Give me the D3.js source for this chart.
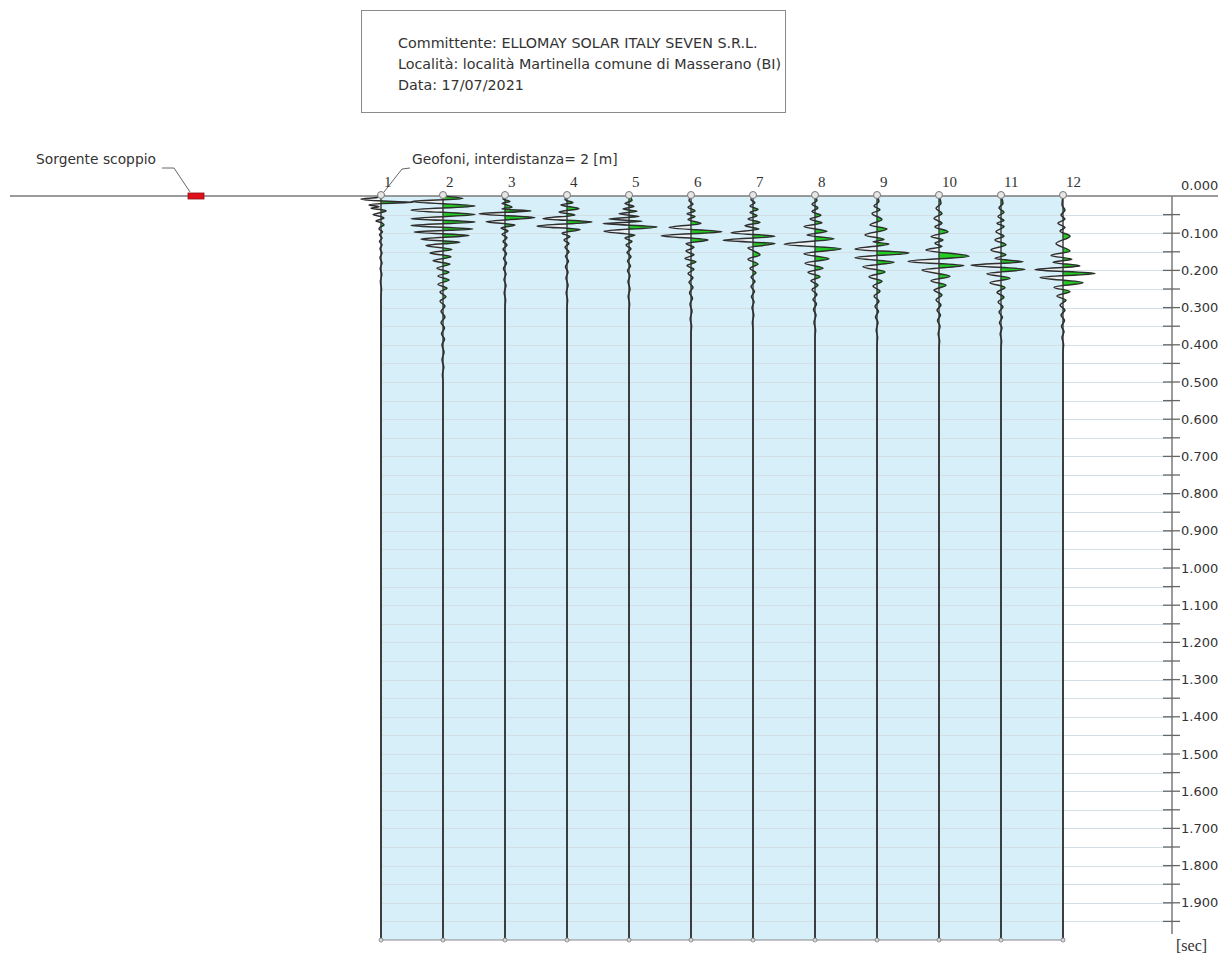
<!DOCTYPE html>
<html>
<head>
<meta charset="utf-8">
<script src="https://cdn.jsdelivr.net/npm/d3@7"></script>
<style>
  html, body { margin: 0; padding: 0; background: #fff; }
  svg { display: block; }
  text { font-family: "DejaVu Sans", Verdana, sans-serif; fill: #333; }
  text.serif { font-family: "Liberation Serif", "Times New Roman", serif; }
</style>
</head>
<body>
<svg id="chart" width="1223" height="957"></svg>
<script>
// ---------------- DATA ----------------
const headerLines = [
  "Committente: ELLOMAY SOLAR ITALY SEVEN S.R.L.",
  "Località: località Martinella comune di Masserano (BI)",
  "Data: 17/07/2021"
];
const sourceLabel = "Sorgente scoppio";
const geophoneLabel = "Geofoni, interdistanza= 2 [m]";
const unitLabel = "[sec]";
const geophones = [1, 2, 3, 4, 5, 6, 7, 8, 9, 10, 11, 12];
const majorTicks = [0.1, 0.2, 0.3, 0.4, 0.5, 0.6, 0.7, 0.8, 0.9, 1.0, 1.1, 1.2, 1.3, 1.4, 1.5, 1.6, 1.7, 1.8, 1.9];
const tickLabels = ["0.100","0.200","0.300","0.400","0.500","0.600","0.700","0.800","0.900","1.000","1.100","1.200","1.300","1.400","1.500","1.600","1.700","1.800","1.900"];
const minorTicks = [0.05, 0.15, 0.25, 0.35, 0.45, 0.55, 0.65, 0.75, 0.85, 0.95, 1.05, 1.15, 1.25, 1.35, 1.45, 1.55, 1.65, 1.75, 1.85, 1.95];
const zeroLabel = "0.000";

// traces: [time (s), amplitude (arb. units)]
const trace1 = [[0,0],[0.004,-4],[0.008,-20],[0.013,-3],[0.017,32],[0.020,2],[0.024,-12],[0.029,-2],[0.033,-10],[0.037,1],[0.040,5],[0.045,-1],[0.050,-8],[0.055,0],[0.059,3],[0.063,-1],[0.067,-5],[0.072,1],[0.078,3],[0.084,-1],[0.089,-2],[0.096,1.5],[0.104,-1.5],[0.113,1],[0.122,-1.5],[0.131,1],[0.142,-1],[0.153,1],[0.166,-1],[0.18,1],[0.195,-0.8],[0.21,0.8],[0.23,-0.6],[0.25,0.5],[0.27,0],[2.0,0]];
const trace2 = [[0,0],[0.007,20],[0.015,-32],[0.027,32],[0.038,-32],[0.050,32],[0.061,-32],[0.070,32],[0.079,-32],[0.089,30],[0.097,-29],[0.106,26],[0.116,-22],[0.124,17],[0.133,-17],[0.144,9],[0.153,-13],[0.163,8],[0.174,-10],[0.183,7],[0.194,-6],[0.205,6],[0.215,-5],[0.226,6],[0.237,-5],[0.248,4],[0.258,-3],[0.271,3],[0.283,-3],[0.296,2],[0.31,-2],[0.325,2],[0.34,-2],[0.355,1.5],[0.37,-1.5],[0.385,1.5],[0.40,-1],[0.42,1],[0.44,-1],[0.46,0.8],[0.48,-0.6],[0.5,0],[2.0,0]];
const trace3 = [[0,0],[0.008,-2],[0.015,5],[0.020,-3],[0.024,2],[0.030,7],[0.035,-3],[0.040,26],[0.048,-26],[0.058,30],[0.069,-19],[0.078,10],[0.086,-4],[0.094,3],[0.103,-3],[0.112,2],[0.122,-2],[0.132,2],[0.143,-2],[0.155,1.5],[0.168,-1.5],[0.18,1.5],[0.195,-1.5],[0.21,1],[0.225,-1],[0.24,1],[0.26,-0.8],[0.28,0.6],[0.3,0],[2.0,0]];
const trace4 = [[0,0],[0.010,-2],[0.018,6],[0.024,-6],[0.034,12],[0.043,-8],[0.051,8],[0.061,-24],[0.070,25],[0.081,-30],[0.090,13],[0.100,-5],[0.109,3],[0.118,-3],[0.128,2],[0.138,-2],[0.15,2],[0.162,-1.5],[0.175,1.5],[0.19,-1.5],[0.205,1],[0.22,-1],[0.24,1],[0.26,-0.8],[0.28,0.6],[0.30,0],[2.0,0]];
const trace5 = [[0,0],[0.012,3],[0.020,-4],[0.028,5],[0.035,-6],[0.041,8],[0.048,-10],[0.055,10],[0.062,-20],[0.068,13],[0.074,-26],[0.083,28],[0.095,-25],[0.105,6],[0.113,-4],[0.122,3],[0.132,-3],[0.142,2],[0.152,-2],[0.163,2],[0.175,-1.5],[0.188,1.5],[0.2,-1.5],[0.215,1],[0.23,-1],[0.25,1],[0.27,-0.8],[0.29,0.6],[0.31,0],[2.0,0]];
const trace6 = [[0,0],[0.012,-2],[0.022,2],[0.030,-3],[0.040,4],[0.048,-4],[0.055,4],[0.063,-3],[0.074,10],[0.085,-22],[0.096,31],[0.107,-30],[0.118,17],[0.128,-5],[0.138,3],[0.148,-5],[0.158,3],[0.168,-6],[0.177,5],[0.187,-4],[0.197,3],[0.208,-3],[0.22,2],[0.232,-2],[0.245,2],[0.26,-1.5],[0.275,1.5],[0.29,-1],[0.31,1],[0.33,-0.8],[0.35,0.6],[0.37,0],[2.0,0]];
const trace7 = [[0,0],[0.010,-2],[0.018,2],[0.027,-3],[0.036,5],[0.044,-3],[0.053,4],[0.062,-5],[0.071,7],[0.080,-8],[0.089,6],[0.099,-22],[0.108,22],[0.119,-30],[0.128,22],[0.139,-5],[0.148,1],[0.158,7],[0.170,-5],[0.183,5],[0.195,-3],[0.206,3],[0.218,-2],[0.23,2],[0.243,-2],[0.257,1.5],[0.27,-1.5],[0.285,1],[0.3,-1],[0.32,0.8],[0.34,-0.6],[0.36,0],[2.0,0]];
const trace8 = [[0,0],[0.012,2],[0.022,-3],[0.032,3],[0.042,-3],[0.052,6],[0.062,-5],[0.072,7],[0.082,-11],[0.095,12],[0.105,-8],[0.115,19],[0.130,-31],[0.142,26],[0.155,-11],[0.169,14],[0.181,-10],[0.194,8],[0.205,-7],[0.217,5],[0.228,-4],[0.240,3],[0.252,-3],[0.265,2],[0.278,-2],[0.29,1.5],[0.305,-1.5],[0.32,1],[0.34,-1],[0.36,0.6],[0.38,0],[2.0,0]];
const trace9 = [[0,0],[0.015,2],[0.027,-3],[0.037,3],[0.047,-5],[0.063,5],[0.078,-7],[0.089,10],[0.105,-12],[0.117,7],[0.123,-4],[0.129,12],[0.143,-22],[0.153,32],[0.166,-22],[0.178,17],[0.190,-14],[0.204,8],[0.217,-8],[0.229,5],[0.242,-4],[0.256,3],[0.269,-3],[0.283,2],[0.297,-2],[0.31,1.5],[0.325,-1.5],[0.34,1],[0.36,-0.8],[0.38,0.6],[0.40,0],[2.0,0]];
const trace10 = [[0,0],[0.020,2],[0.033,-3],[0.047,3],[0.060,-5],[0.073,3],[0.083,-4],[0.096,9],[0.109,-8],[0.118,4],[0.127,-4],[0.136,3],[0.145,-13],[0.162,30],[0.176,-31],[0.187,25],[0.199,-17],[0.216,11],[0.228,-8],[0.240,7],[0.253,-5],[0.266,3],[0.279,-3],[0.293,2],[0.307,-2],[0.32,1.5],[0.335,-1.5],[0.35,1],[0.37,-0.8],[0.39,0.6],[0.41,0],[2.0,0]];
const trace11 = [[0,0],[0.020,2],[0.032,-2],[0.044,3],[0.055,-3],[0.066,3],[0.073,-4],[0.082,3],[0.096,-5],[0.108,3],[0.118,-6],[0.131,5],[0.145,-10],[0.158,5],[0.168,-6],[0.177,22],[0.186,-30],[0.197,24],[0.209,-14],[0.221,9],[0.233,-11],[0.246,4],[0.259,-4],[0.272,3],[0.285,-3],[0.298,2],[0.312,-2],[0.326,1.5],[0.34,-1.5],[0.355,1],[0.37,-0.8],[0.39,0.6],[0.41,0],[2.0,0]];
const trace12 = [[0,0],[0.024,-1],[0.038,2],[0.051,-2],[0.062,2],[0.073,-5],[0.085,2],[0.094,-3],[0.108,7],[0.128,-7],[0.148,7],[0.160,-12],[0.170,9],[0.178,-10],[0.188,17],[0.198,-28],[0.208,32],[0.219,-23],[0.233,20],[0.245,-9],[0.257,7],[0.269,-6],[0.280,3],[0.293,-3],[0.307,2],[0.32,-2],[0.335,1.5],[0.35,-1.5],[0.365,1],[0.38,-1],[0.40,0.6],[0.42,0],[2.0,0]];
const traces = [trace1, trace2, trace3, trace4, trace5, trace6, trace7, trace8, trace9, trace10, trace11, trace12];

// ---------------- LAYOUT ----------------
const svg = d3.select("#chart");
const plotTop = 196, plotBottom = 940;
const firstX = 381, lastX = 1063;
const axisX = 1172;

const y = d3.scaleLinear().domain([0, 2.0]).range([plotTop, plotBottom]);
const x = d3.scalePoint().domain(geophones).range([firstX, lastX]);
const amp = d3.scaleLinear().domain([-40, 40]).range([-40, 40]);

// header box
svg.append("rect").attr("x", 361.5).attr("y", 10.5).attr("width", 424).attr("height", 102)
  .attr("fill", "#fff").attr("stroke", "#8a8a8a").attr("stroke-width", 1);
svg.selectAll("text.hdr").data(headerLines).join("text").attr("class", "hdr")
  .attr("x", 398).attr("y", (d, i) => 48 + i * 21)
  .attr("font-size", 14.3).text(d => d);

// blue area
svg.append("rect").attr("x", firstX).attr("y", plotTop).attr("width", lastX - firstX).attr("height", plotBottom - plotTop)
  .attr("fill", "#d7eff9");

// grid lines
svg.append("g").selectAll("line").data([...minorTicks, ...majorTicks]).join("line")
  .attr("x1", firstX).attr("x2", axisX)
  .attr("y1", d => Math.round(y(d)) + 0.5).attr("y2", d => Math.round(y(d)) + 0.5)
  .attr("stroke", "#d2dfe4").attr("stroke-width", 1);

// bottom line
svg.append("line").attr("x1", firstX).attr("x2", lastX).attr("y1", plotBottom).attr("y2", plotBottom)
  .attr("stroke", "#8a8a8a").attr("stroke-width", 1.2);

// right axis
svg.append("line").attr("x1", axisX).attr("x2", axisX).attr("y1", plotTop).attr("y2", plotBottom - 6)
  .attr("stroke", "#666").attr("stroke-width", 1.3);
svg.append("g").selectAll("line").data([...minorTicks, ...majorTicks]).join("line")
  .attr("x1", axisX - 9).attr("x2", axisX + 8)
  .attr("y1", d => y(d)).attr("y2", d => y(d))
  .attr("stroke", "#666").attr("stroke-width", 1.3);
svg.append("g").selectAll("text").data(majorTicks).join("text")
  .attr("x", axisX + 9).attr("y", d => y(d)).attr("dy", "0.36em")
  .attr("font-size", 13).text((d, i) => tickLabels[i]);
svg.append("text").attr("x", axisX + 9).attr("y", plotTop - 11).attr("dy", "0.36em")
  .attr("font-size", 13).text(zeroLabel);
svg.append("text").attr("class", "serif").attr("x", axisX + 4).attr("y", 951)
  .attr("font-size", 16).text(unitLabel);

// top surface line
svg.append("line").attr("x1", 10).attr("x2", 1218).attr("y1", plotTop).attr("y2", plotTop)
  .attr("stroke", "#7a7a7a").attr("stroke-width", 1.5);

// source
svg.append("rect").attr("x", 188).attr("y", 193).attr("width", 16).attr("height", 6)
  .attr("fill", "#e0101a").attr("stroke", "#8a1010").attr("stroke-width", 0.8);
svg.append("text").attr("x", 36).attr("y", 164).attr("font-size", 13.8).text(sourceLabel);
svg.append("polyline").attr("points", "162,168 174,168 190,192")
  .attr("fill", "none").attr("stroke", "#666").attr("stroke-width", 1);

// geophone label
svg.append("text").attr("x", 412).attr("y", 164).attr("font-size", 13.8).text(geophoneLabel);
svg.append("polyline").attr("points", "410,168 402,169 384,192")
  .attr("fill", "none").attr("stroke", "#666").attr("stroke-width", 1);

// traces
const defs = svg.append("defs");
const areaGen = xc => d3.area().curve(d3.curveMonotoneY)
  .y(d => y(d[0])).x0(xc).x1(d => xc + amp(d[1]));
const lineGen = xc => d3.line().curve(d3.curveMonotoneY)
  .y(d => y(d[0])).x(d => xc + amp(d[1]));

traces.forEach((tr, i) => {
  const xc = x(geophones[i]);
  const posId = "pos" + i, negId = "neg" + i;
  defs.append("clipPath").attr("id", posId).append("rect")
    .attr("x", xc).attr("y", 0).attr("width", 200).attr("height", 957);
  defs.append("clipPath").attr("id", negId).append("rect")
    .attr("x", xc - 200).attr("y", 0).attr("width", 200).attr("height", 957);
  const g = svg.append("g");
  g.append("path").datum(tr).attr("d", areaGen(xc)).attr("clip-path", `url(#${negId})`)
    .attr("fill", "#eef2f3").attr("fill-opacity", 0.9);
  g.append("path").datum(tr).attr("d", areaGen(xc)).attr("clip-path", `url(#${posId})`)
    .attr("fill", "#22cc22");
  g.append("line").attr("x1", xc).attr("x2", xc).attr("y1", plotTop).attr("y2", plotBottom)
    .attr("stroke", "#3a3a3a").attr("stroke-width", 1.4);
  g.append("path").datum(tr).attr("d", lineGen(xc))
    .attr("fill", "none").attr("stroke", "#2e2e2e").attr("stroke-width", 1.5)
    .attr("stroke-linejoin", "round");
});

// geophone markers
svg.append("g").selectAll("circle").data(geophones).join("circle")
  .attr("cx", d => x(d)).attr("cy", plotTop - 1).attr("r", 3.5)
  .attr("fill", "#e6e6e6").attr("stroke", "#777").attr("stroke-width", 1);
svg.append("g").selectAll("circle").data(geophones).join("circle")
  .attr("cx", d => x(d)).attr("cy", plotBottom).attr("r", 2)
  .attr("fill", "#ddd").attr("stroke", "#777").attr("stroke-width", 0.8);
svg.append("g").selectAll("text").data(geophones).join("text").attr("class", "serif")
  .attr("x", d => x(d) + 3).attr("y", 187).attr("font-size", 15).text(d => d);
</script>
</body>
</html>
